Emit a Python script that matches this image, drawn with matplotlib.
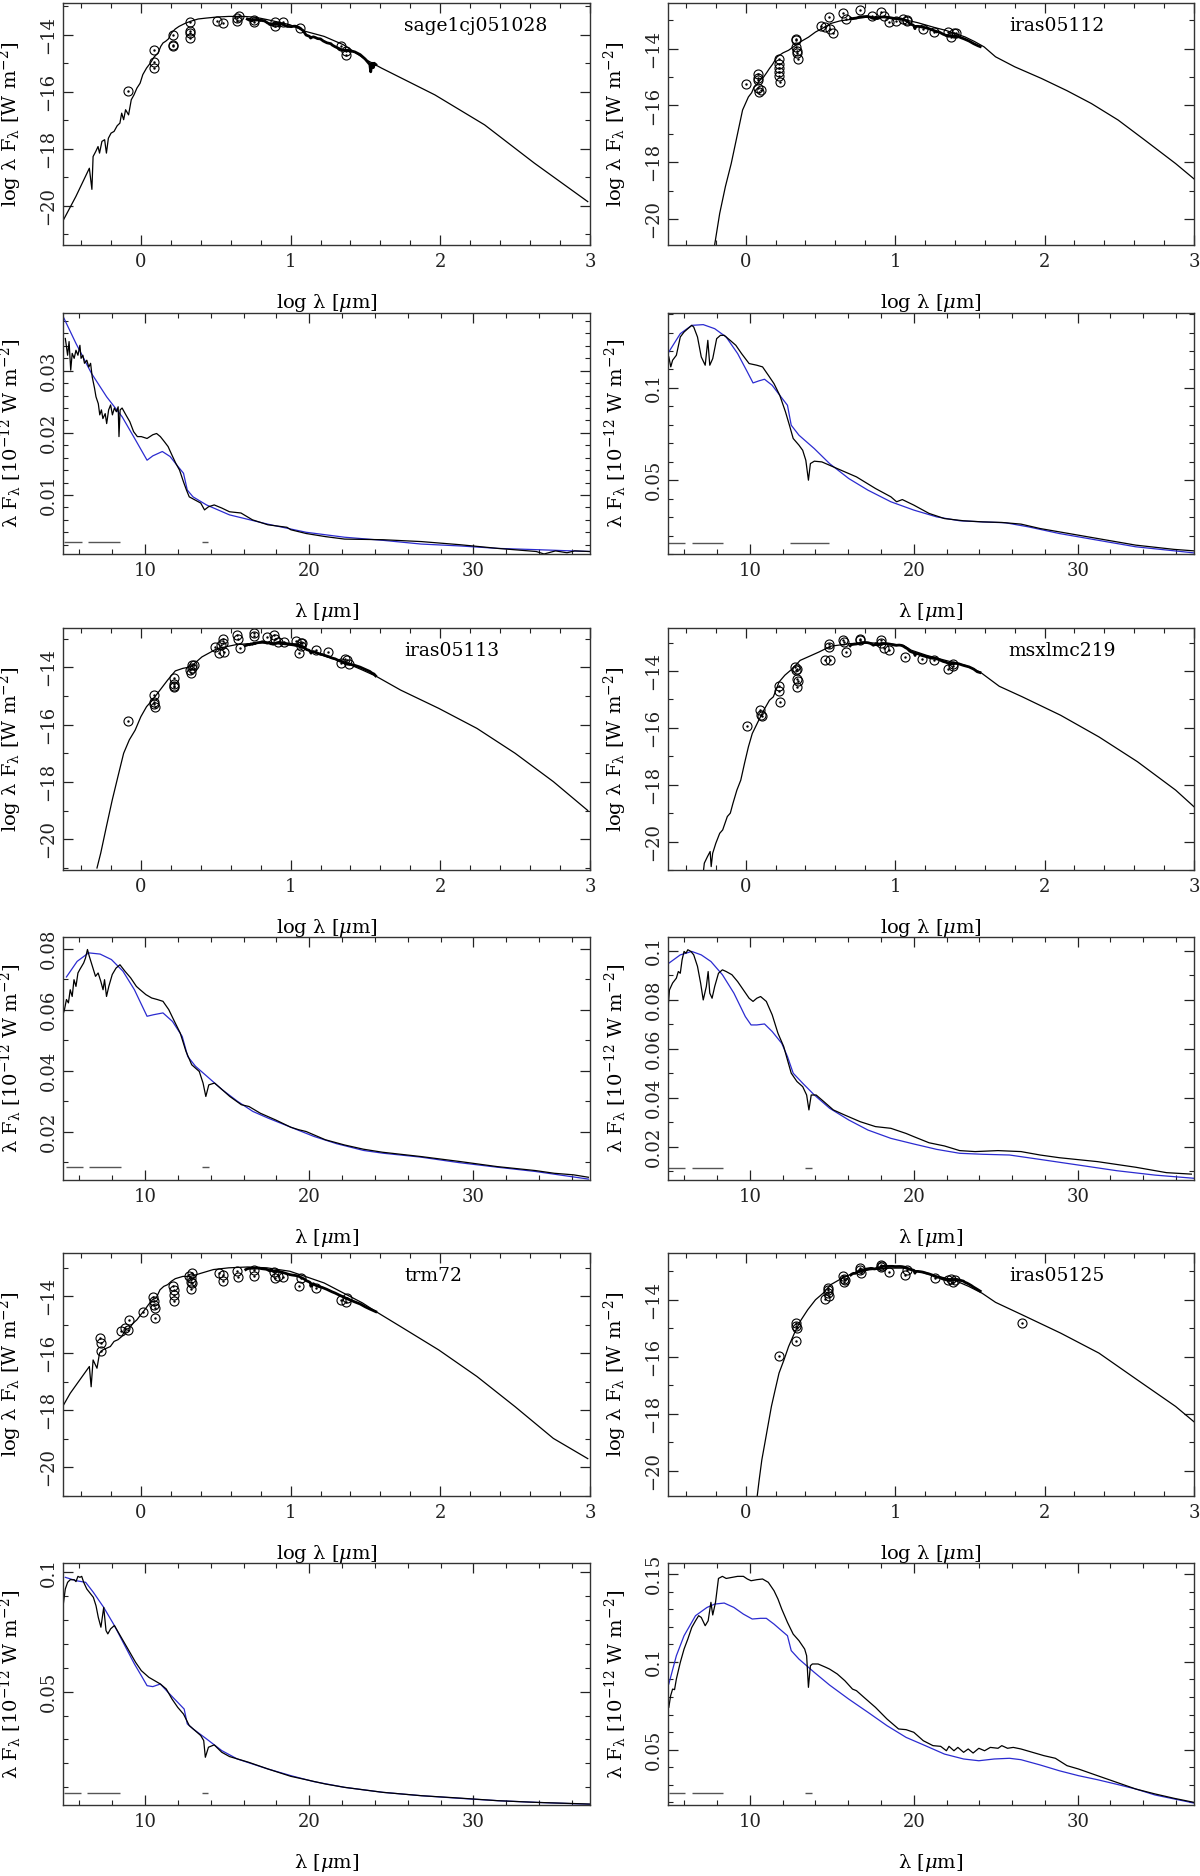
import numpy as np
import matplotlib
matplotlib.use('Agg')
import matplotlib.pyplot as plt
from matplotlib.ticker import MultipleLocator, FuncFormatter

plt.rcParams['font.family'] = ['DejaVu Serif']
plt.rcParams['mathtext.fontset'] = 'dejavuserif'

# ---------------- star names ----------------
names_left = ['sage1cj051028', 'iras05113', 'trm72']
names_right = ['iras05112', 'msxlmc219', 'iras05125']

# ---------------- SED model curves (log lambda [um], log lambda F_lambda [W m^-2]) ----------------
sage_sed_model = [(-0.523,-20.55),(-0.434,-19.67),(-0.344,-18.68),(-0.327,-19.42),(-0.319,-18.27),(-0.301,-18.09),
    (-0.286,-17.92),(-0.276,-18.15),(-0.26,-17.74),(-0.242,-17.68),(-0.23,-18.15),(-0.217,-17.63),(-0.199,-17.45),
    (-0.179,-17.39),(-0.158,-17.19),(-0.14,-17.1),(-0.128,-16.75),(-0.115,-16.98),(-0.102,-16.63),(-0.082,-16.81),
    (-0.064,-16.28),(-0.046,-16.11),(-0.026,-15.87),(-0.005,-15.7),(0.013,-15.4),(0.038,-15.17),(0.064,-14.99),
    (0.089,-14.78),(0.115,-14.64),(0.133,-14.41),(0.148,-14.29),(0.166,-14.23),(0.184,-14.15),(0.204,-13.94),
    (0.23,-13.8),(0.255,-13.71),(0.293,-13.61),(0.332,-13.53),(0.383,-13.45),(0.434,-13.42),(0.51,-13.38),
    (0.587,-13.36),(0.689,-13.36),(0.765,-13.39),(0.842,-13.47),(0.995,-13.65),(1.097,-13.88),(1.224,-14.06),
    (1.352,-14.35),(1.505,-14.88),(1.607,-15.17),(1.964,-16.11),(2.296,-17.16),(2.628,-18.5),(2.985,-19.85)]
iras05112_sed_model = [(-0.208,-20.9),(-0.174,-19.79),(-0.136,-18.85),(-0.097,-18.04),(-0.059,-17.1),(-0.021,-16.16),
    (0.018,-15.7),(0.04,-15.55),(0.056,-15.35),(0.07,-15.3),(0.095,-15.11),(0.12,-15.0),(0.14,-14.85),(0.159,-14.7),
    (0.18,-14.55),(0.21,-14.29),(0.25,-14.15),(0.287,-14.06),(0.33,-13.9),(0.364,-13.77),(0.42,-13.6),(0.467,-13.42),
    (0.52,-13.27),(0.569,-13.12),(0.63,-13.03),(0.697,-12.98),(0.76,-12.93),(0.826,-12.89),(0.89,-12.89),(0.954,-12.91),
    (1.02,-12.95),(1.082,-13.01),(1.15,-13.09),(1.21,-13.18),(1.27,-13.27),(1.338,-13.36),(1.40,-13.47),(1.467,-13.59),
    (1.53,-13.75),(1.595,-13.94),(1.672,-14.29),(1.8,-14.64),(1.979,-15.05),(2.15,-15.48),(2.313,-15.93),(2.492,-16.51),
    (2.672,-17.22),(2.877,-18.04),(3.005,-18.6)]
iras05113_sed_model = [(-0.293,-21.01),(-0.268,-20.49),(-0.23,-19.56),(-0.191,-18.63),(-0.153,-17.81),(-0.115,-17.0),
    (-0.077,-16.53),(-0.038,-16.19),(0.0,-15.72),(0.038,-15.37),(0.077,-15.14),(0.128,-14.79),(0.179,-14.44),
    (0.23,-14.12),(0.281,-14.03),(0.332,-13.98),(0.408,-13.63),(0.51,-13.34),(0.638,-13.2),(0.791,-13.14),
    (0.893,-13.16),(0.995,-13.22),(1.071,-13.28),(1.173,-13.51),(1.352,-13.8),(1.48,-14.09),(1.569,-14.3),
    (1.735,-14.79),(1.99,-15.43),(2.245,-16.13),(2.5,-17.0),(2.755,-17.99),(2.985,-19.0)]
msxlmc219_sed_model = [(-0.282,-21.0),(-0.277,-20.76),(-0.256,-20.53),(-0.238,-20.35),(-0.231,-20.88),(-0.221,-20.41),
    (-0.2,-20.06),(-0.174,-19.71),(-0.154,-19.59),(-0.123,-19.12),(-0.103,-19.0),(-0.085,-18.65),(-0.059,-18.19),
    (-0.033,-17.84),(-0.008,-17.25),(0.018,-16.67),(0.044,-16.2),(0.082,-15.79),(0.121,-15.38),(0.159,-15.03),
    (0.185,-14.91),(0.223,-14.39),(0.262,-14.15),(0.313,-13.92),(0.364,-13.63),(0.441,-13.45),(0.492,-13.33),
    (0.569,-13.13),(0.697,-13.04),(0.826,-13.01),(0.954,-13.04),(1.056,-13.1),(1.108,-13.27),(1.21,-13.45),
    (1.338,-13.63),(1.467,-13.8),(1.569,-14.04),(1.697,-14.54),(1.851,-14.91),(2.108,-15.56),(2.364,-16.32),
    (2.621,-17.19),(2.877,-18.19),(3.005,-18.8)]
trm72_sed_model = [(-0.523,-17.87),(-0.472,-17.4),(-0.408,-16.93),(-0.344,-16.46),(-0.332,-17.17),(-0.319,-16.23),
    (-0.293,-16.52),(-0.276,-15.99),(-0.255,-15.88),(-0.23,-15.82),(-0.204,-15.76),(-0.179,-15.58),(-0.153,-15.52),
    (-0.128,-15.41),(-0.102,-15.17),(-0.077,-15.11),(-0.051,-14.94),(-0.026,-14.82),(0.0,-14.64),(0.026,-14.47),
    (0.051,-14.29),(0.077,-14.12),(0.102,-14.06),(0.128,-13.77),(0.153,-13.65),(0.179,-13.59),(0.204,-13.47),
    (0.23,-13.38),(0.281,-13.3),(0.332,-13.3),(0.408,-13.18),(0.485,-13.06),(0.587,-13.0),(0.714,-12.97),
    (0.842,-13.0),(0.995,-13.12),(1.097,-13.3),(1.224,-13.53),(1.352,-13.88),(1.48,-14.23),(1.569,-14.53),
    (1.735,-15.06),(1.99,-15.88),(2.245,-16.81),(2.5,-17.87),(2.755,-18.98),(2.985,-19.69)]
iras05125_sed_model = [(0.077,-20.88),(0.09,-20.32),(0.108,-19.61),(0.128,-19.03),(0.146,-18.5),(0.172,-17.74),
    (0.197,-17.16),(0.223,-16.57),(0.256,-16.11),(0.287,-15.64),(0.326,-15.17),(0.364,-14.76),(0.415,-14.35),
    (0.467,-14.0),(0.518,-13.77),(0.569,-13.47),(0.646,-13.24),(0.723,-13.06),(0.826,-12.95),(0.954,-12.89),
    (1.056,-12.89),(1.159,-13.01),(1.287,-13.18),(1.39,-13.3),(1.492,-13.53),(1.582,-13.77),(1.672,-14.09),
    (1.851,-14.53),(2.108,-15.17),(2.364,-15.87),(2.621,-16.81),(2.877,-17.74),(3.005,-18.3)]

# ---------------- photometry (log lambda, log lambda F_lambda) ----------------
sage_phot = [(-0.084,-15.99),(0.089,-14.53),(0.089,-14.94),(0.089,-15.17),(0.217,-14.0),(0.217,-14.35),(0.217,-14.41),
    (0.327,-13.57),(0.327,-13.88),(0.327,-13.94),(0.327,-14.12),(0.51,-13.51),(0.548,-13.59),(0.645,-13.42),
    (0.645,-13.53),(0.658,-13.36),(0.753,-13.47),(0.753,-13.57),(0.893,-13.57),(0.893,-13.71),(0.952,-13.57),
    (1.064,-13.77),(1.339,-14.39),(1.372,-14.58),(1.372,-14.70)]
iras05112_phot = [(0.005,-15.25),(0.082,-14.90),(0.082,-15.02),(0.082,-15.11),(0.082,-15.37),(0.09,-15.52),(0.103,-15.44),
    (0.223,-14.35),(0.223,-14.53),(0.223,-14.70),(0.223,-14.82),(0.223,-14.97),(0.231,-15.17),(0.338,-13.65),
    (0.338,-13.71),(0.338,-13.94),(0.344,-14.08),(0.344,-14.15),(0.351,-14.35),(0.505,-13.22),(0.531,-13.24),
    (0.556,-12.89),(0.564,-13.30),(0.582,-13.47),(0.654,-12.75),(0.672,-12.95),(0.764,-12.63),(0.846,-12.87),
    (0.903,-12.71),(0.928,-12.87),(0.959,-13.06),(1.005,-13.03),(1.051,-12.95),(1.077,-13.03),(1.082,-12.98),
    (1.185,-13.30),(1.262,-13.42),(1.351,-13.42),(1.377,-13.59),(1.395,-13.45),(1.41,-13.47)]
iras05113_phot = [(-0.084,-15.87),(0.089,-14.97),(0.089,-15.20),(0.089,-15.29),(0.097,-15.37),(0.222,-14.36),(0.222,-14.58),
    (0.222,-14.65),(0.222,-14.70),(0.327,-14.09),(0.332,-14.19),(0.339,-13.92),(0.344,-14.01),(0.352,-13.90),
    (0.497,-13.28),(0.523,-13.51),(0.536,-13.22),(0.548,-13.02),(0.548,-13.14),(0.556,-13.45),(0.645,-12.87),
    (0.651,-13.02),(0.663,-13.31),(0.753,-12.81),(0.753,-12.91),(0.842,-12.93),(0.888,-12.87),(0.893,-13.02),
    (0.918,-13.10),(0.957,-13.10),(1.033,-13.07),(1.059,-13.49),(1.071,-13.16),(1.071,-13.26),(1.077,-13.14),
    (1.168,-13.40),(1.25,-13.45),(1.339,-13.86),(1.365,-13.69),(1.378,-13.74),(1.39,-13.88)]
msxlmc219_phot = [(0.01,-15.94),(0.095,-15.38),(0.103,-15.56),(0.108,-15.59),(0.223,-14.54),(0.223,-14.70),(0.231,-15.09),
    (0.333,-13.86),(0.338,-13.98),(0.344,-13.92),(0.344,-14.30),(0.351,-14.35),(0.344,-14.58),(0.531,-13.63),
    (0.556,-13.04),(0.556,-13.16),(0.562,-13.60),(0.654,-12.92),(0.659,-12.98),(0.672,-13.33),(0.764,-12.87),
    (0.767,-12.92),(0.903,-12.92),(0.908,-13.01),(0.928,-13.18),(0.959,-13.25),(1.069,-13.51),(1.179,-13.58),
    (1.262,-13.63),(1.351,-13.92),(1.385,-13.74),(1.39,-13.84)]
trm72_phot = [(-0.273,-15.47),(-0.268,-15.64),(-0.268,-15.93),(-0.133,-15.23),(-0.107,-15.11),(-0.089,-15.17),(-0.082,-14.84),
    (0.013,-14.56),(0.084,-14.02),(0.089,-14.18),(0.089,-14.29),(0.094,-14.41),(0.097,-14.76),(0.217,-13.65),
    (0.222,-13.77),(0.222,-13.94),(0.222,-14.18),(0.324,-13.27),(0.332,-13.36),(0.332,-13.51),(0.332,-13.74),
    (0.344,-13.18),(0.344,-13.53),(0.523,-13.18),(0.548,-13.24),(0.548,-13.47),(0.645,-13.12),(0.651,-13.32),
    (0.753,-13.09),(0.753,-13.27),(0.888,-13.16),(0.893,-13.36),(0.918,-13.30),(0.949,-13.32),(1.059,-13.62),
    (1.071,-13.36),(1.168,-13.71),(1.339,-14.12),(1.372,-14.21),(1.378,-14.06)]
iras05125_phot = [(0.223,-15.96),(0.338,-15.43),(0.338,-14.82),(0.338,-14.91),(0.344,-14.99),(0.531,-13.98),(0.549,-13.59),
    (0.549,-13.67),(0.551,-13.77),(0.559,-13.86),(0.654,-13.16),(0.659,-13.27),(0.659,-13.36),(0.667,-13.32),
    (0.764,-12.89),(0.767,-12.97),(0.769,-13.06),(0.903,-12.77),(0.908,-12.85),(0.915,-12.83),(0.959,-13.04),
    (1.069,-13.12),(1.082,-12.97),(1.267,-13.24),(1.351,-13.32),(1.377,-13.27),(1.39,-13.36),(1.403,-13.30),
    (1.851,-14.82)]

# ---------------- IRS spectra (lambda [um], lambda F_lambda [1e-12 W m^-2]) ----------------
sage_obs = [(5.14,0.0352),(5.21,0.0339),(5.28,0.0325),(5.37,0.0347),(5.47,0.0301),(5.56,0.0328),(5.68,0.032),
    (5.79,0.0333),(5.91,0.0325),(6.03,0.0341),(6.10,0.032),(6.21,0.0325),(6.31,0.0312),(6.45,0.0317),(6.57,0.0306),
    (6.68,0.0312),(6.78,0.029),(6.92,0.0272),(7.01,0.0258),(7.15,0.0247),(7.24,0.0229),(7.34,0.0237),(7.43,0.0223),
    (7.57,0.0231),(7.66,0.0215),(7.78,0.0237),(7.90,0.0245),(8.01,0.0229),(8.13,0.024),(8.25,0.0234),(8.36,0.0242),
    (8.41,0.0194),(8.48,0.0237),(8.60,0.024),(8.83,0.0229),(9.07,0.0218),(9.30,0.0202),(9.53,0.0194),(9.77,0.0194),
    (10.12,0.0191),(10.47,0.0197),(10.70,0.0199),(10.93,0.0194),(11.17,0.0186),(11.40,0.0178),(11.64,0.0164),
    (11.87,0.0151),(12.10,0.014),(12.34,0.0121),(12.52,0.0108),(12.69,0.0097),(13.04,0.0092),(13.39,0.0087),
    (13.62,0.0076),(13.86,0.0081),(14.21,0.0084),(14.67,0.0079),(15.14,0.0073),(15.84,0.0071),(16.54,0.006),
    (17.48,0.0052),(18.64,0.0048),(18.88,0.0044),(19.81,0.0038),(20.98,0.0033),(22.15,0.0029),(24.49,0.0028),
    (26.82,0.0025),(29.16,0.002),(31.5,0.0014),(33.83,0.0009),(34.3,0.0005),(35.0,0.001),(35.7,0.0007),
    (36.17,0.001),(37.1,0.0009)]
sage_mod = [(5.05,0.0385),(5.79,0.0344),(6.73,0.0296),(7.66,0.0258),(8.6,0.0226),(9.3,0.0194),(10.12,0.0156),
    (10.47,0.0163),(11.05,0.017),(11.52,0.0162),(12.0,0.0146),(12.34,0.0135),(12.57,0.0108),(12.92,0.0097),
    (13.74,0.0084),(15.14,0.0068),(17.48,0.0053),(19.81,0.004),(22.15,0.0032),(24.49,0.0027),(26.82,0.0021),
    (29.16,0.0018),(31.5,0.0014),(33.83,0.0012),(37.1,0.0009)]
iras05112_obs = [(5.05,0.1168),(5.17,0.1114),(5.28,0.115),(5.51,0.1177),(5.75,0.1276),(5.98,0.1303),(6.21,0.1321),
    (6.45,0.1339),(6.57,0.133),(6.8,0.1276),(7.03,0.1168),(7.27,0.1123),(7.43,0.1258),(7.55,0.1123),(7.73,0.1159),
    (7.97,0.1267),(8.2,0.1285),(8.43,0.1285),(8.79,0.1258),(9.14,0.1231),(9.49,0.1186),(9.95,0.1132),(10.42,0.1123),
    (10.77,0.1114),(11.12,0.1069),(11.47,0.1023),(11.82,0.096),(12.17,0.087),(12.41,0.0798),(12.64,0.0726),
    (12.99,0.069),(13.22,0.0662),(13.41,0.0608),(13.57,0.05),(13.69,0.059),(13.93,0.0603),(14.39,0.0599),
    (14.86,0.0581),(15.56,0.0554),(16.5,0.0518),(17.66,0.0455),(18.6,0.041),(18.95,0.0383),(19.3,0.0395),
    (20.0,0.0365),(20.93,0.032),(21.87,0.0292),(23.04,0.028),(24.21,0.0274),(25.37,0.0271),(26.54,0.0262),
    (27.71,0.0238),(28.88,0.022),(31.21,0.0184),(33.55,0.0148),(35.89,0.0125),(37.1,0.0117)]
iras05112_mod = [(5.05,0.1195),(5.75,0.1294),(6.45,0.1339),(7.15,0.1343),(7.85,0.1321),(8.55,0.1276),(9.25,0.1186),
    (9.84,0.1087),(10.19,0.1027),(10.54,0.1038),(10.89,0.1047),(11.36,0.1014),(11.82,0.096),(12.29,0.0906),
    (12.52,0.0798),(12.99,0.0744),(13.93,0.0671),(14.86,0.059),(16.03,0.0509),(17.2,0.0446),(18.6,0.0383),
    (20.0,0.0338),(21.4,0.0301),(22.8,0.028),(24.21,0.0274),(25.61,0.0269),(27.0,0.0247),(28.88,0.0211),
    (31.21,0.0175),(33.55,0.0139),(37.1,0.0106)]
iras05113_obs = [(5.0,0.0585),(5.09,0.0601),(5.21,0.0634),(5.33,0.0623),(5.44,0.0666),(5.56,0.0644),(5.67,0.0699),
    (5.79,0.0677),(5.91,0.0721),(6.02,0.0732),(6.14,0.0743),(6.26,0.0754),(6.37,0.077),(6.49,0.0798),(6.6,0.0776),
    (6.79,0.0743),(6.98,0.071),(7.14,0.0721),(7.3,0.0694),(7.44,0.0666),(7.53,0.0699),(7.65,0.0644),(7.79,0.0677),
    (8.0,0.0716),(8.23,0.0737),(8.47,0.0748),(8.77,0.0727),(9.12,0.0705),(9.47,0.0677),(9.7,0.0666),(10.05,0.065),
    (10.4,0.0639),(10.74,0.0634),(11.09,0.0628),(11.44,0.0601),(11.79,0.0562),(12.14,0.0524),(12.49,0.0464),
    (12.84,0.042),(13.3,0.0398),(13.53,0.036),(13.7,0.0316),(13.88,0.0354),(14.23,0.036),(14.7,0.0338),
    (15.16,0.0316),(15.86,0.0289),(16.33,0.0283),(17.02,0.0261),(17.95,0.0239),(18.88,0.0215),(19.35,0.0207),
    (19.81,0.0201),(20.98,0.0174),(22.14,0.0157),(23.3,0.0143),(24.47,0.0133),(26.79,0.0119),(29.12,0.0103),
    (31.44,0.0086),(33.77,0.0073),(34.93,0.0064),(36.09,0.0059),(37.0,0.0051)]
iras05113_mod = [(5.21,0.0708),(5.86,0.0759),(6.56,0.0787),(7.26,0.0783),(7.95,0.0765),(8.65,0.0727),(9.35,0.0666),
    (10.12,0.0579),(10.51,0.0584),(11.09,0.059),(11.67,0.0562),(12.26,0.0513),(12.6,0.0447),(13.07,0.0415),
    (13.77,0.0382),(14.7,0.0338),(15.63,0.03),(16.56,0.0267),(17.49,0.0245),(18.88,0.0215),(20.28,0.0185),
    (21.67,0.0161),(23.3,0.0139),(24.47,0.013),(26.79,0.0117),(29.12,0.0099),(31.44,0.0084),(33.77,0.007),
    (37.0,0.0045)]
msxlmc219_obs = [(5.0,0.0765),(5.09,0.084),(5.28,0.0868),(5.51,0.0888),(5.63,0.0915),(5.75,0.0908),(5.86,0.0963),
    (5.98,0.0997),(6.1,0.099),(6.21,0.1004),(6.4,0.0997),(6.57,0.0983),(6.8,0.0936),(6.99,0.0868),(7.15,0.0799),
    (7.34,0.0854),(7.45,0.0915),(7.55,0.0827),(7.69,0.0806),(7.85,0.0854),(8.08,0.0908),(8.32,0.0922),(8.55,0.0915),
    (8.9,0.0902),(9.25,0.0874),(9.6,0.084),(9.95,0.0806),(10.19,0.0793),(10.42,0.0806),(10.65,0.0813),(11.0,0.0793),
    (11.36,0.0738),(11.71,0.0663),(12.06,0.0609),(12.29,0.0554),(12.52,0.05),(12.87,0.0466),(13.22,0.0445),
    (13.46,0.0411),(13.6,0.035),(13.74,0.0411),(14.04,0.0411),(14.51,0.0384),(15.09,0.035),(15.79,0.0329),
    (16.73,0.0302),(17.66,0.0282),(18.6,0.0275),(19.53,0.0254),(20.0,0.0241),(20.93,0.0216),(21.87,0.0203),
    (22.8,0.0184),(23.74,0.018),(25.14,0.0184),(26.54,0.018),(27.71,0.0166),(28.88,0.0155),(31.21,0.0139),
    (33.55,0.0116),(35.42,0.0094),(36.94,0.0088)]
msxlmc219_mod = [(5.05,0.0949),(5.75,0.0983),(6.45,0.0997),(7.03,0.0983),(7.62,0.0956),(8.32,0.0902),(9.02,0.0827),
    (9.72,0.0731),(10.07,0.0697),(10.42,0.0697),(10.89,0.0701),(11.36,0.067),(11.94,0.0622),(12.29,0.0568),
    (12.64,0.05),(13.22,0.0459),(13.93,0.0411),(14.86,0.0357),(16.03,0.0309),(17.2,0.0268),(18.6,0.0234),
    (20.0,0.0211),(21.4,0.0189),(22.8,0.0173),(24.21,0.0169),(25.84,0.0166),(27.71,0.0148),(30.05,0.0125),
    (32.38,0.0102),(34.72,0.0084),(37.1,0.0071)]
trm72_obs = [(5.02,0.0867),(5.14,0.093),(5.28,0.0958),(5.44,0.0969),(5.68,0.0969),(5.79,0.0961),(5.91,0.0983),
    (6.03,0.0979),(6.14,0.0983),(6.26,0.0958),(6.45,0.093),(6.61,0.0916),(6.85,0.0895),(7.01,0.086),(7.15,0.0811),
    (7.31,0.077),(7.48,0.0853),(7.62,0.0756),(7.73,0.0742),(7.9,0.0763),(8.13,0.0777),(8.6,0.0721),(9.07,0.0665),
    (9.42,0.0623),(9.77,0.0588),(10.23,0.056),(10.58,0.0546),(10.93,0.0532),(11.29,0.0511),(11.64,0.0469),
    (11.99,0.0434),(12.34,0.0406),(12.69,0.0358),(13.04,0.0337),(13.39,0.0316),(13.57,0.0295),(13.67,0.0225),
    (13.86,0.0267),(14.21,0.0277),(14.67,0.0246),(15.14,0.0228),(16.31,0.0204),(17.48,0.0176),(18.88,0.0145),
    (19.81,0.0131),(20.98,0.0113),(22.15,0.0099),(24.49,0.0078),(26.82,0.0064),(29.16,0.0054),(31.5,0.0043),
    (33.83,0.0036),(37.1,0.0029)]
trm72_mod = [(5.14,0.0979),(5.79,0.0965),(6.38,0.0958),(6.85,0.0916),(7.48,0.0853),(8.13,0.0777),(8.71,0.07),
    (9.35,0.0616),(9.77,0.0567),(10.12,0.0525),(10.47,0.0521),(10.93,0.0532),(11.4,0.0497),(11.99,0.0455),
    (12.38,0.0427),(12.57,0.0365),(12.92,0.0344),(13.74,0.0302),(14.67,0.0253),(15.61,0.0218),(16.54,0.0197),
    (17.48,0.0176),(18.88,0.0148),(20.28,0.0123),(22.15,0.0099),(24.49,0.0078),(26.82,0.0064),(29.16,0.0053),
    (31.5,0.0043),(33.83,0.0036),(37.1,0.0028)]
iras05125_obs = [(5.05,0.0741),(5.16,0.0807),(5.28,0.0845),(5.4,0.0842),(5.51,0.0902),(5.75,0.0997),(5.98,0.1073),
    (6.21,0.113),(6.45,0.1196),(6.68,0.1234),(6.87,0.1263),(7.03,0.1253),(7.27,0.1206),(7.45,0.1234),(7.62,0.1339),
    (7.73,0.1267),(7.9,0.1339),(8.08,0.1475),(8.32,0.1487),(8.55,0.1475),(8.9,0.1481),(9.25,0.1487),(9.6,0.1487),
    (9.84,0.1472),(10.07,0.1462),(10.42,0.1468),(10.77,0.1472),(11.12,0.1453),(11.47,0.1405),(11.71,0.1358),
    (11.94,0.1301),(12.29,0.1225),(12.64,0.1158),(12.99,0.1121),(13.34,0.1073),(13.46,0.1035),(13.57,0.0855),
    (13.69,0.0978),(13.81,0.0988),(14.16,0.0988),(14.63,0.0969),(14.86,0.0959),(15.33,0.0931),(15.79,0.0893),
    (16.26,0.0845),(16.5,0.0836),(16.96,0.0798),(17.66,0.0741),(18.36,0.0675),(19.07,0.0618),(19.53,0.0614),
    (20.0,0.0599),(20.58,0.0551),(21.17,0.0523),(21.64,0.0519),(21.99,0.0494),(22.15,0.0519),(22.45,0.0494),
    (22.69,0.0513),(23.04,0.0485),(23.32,0.0504),(23.62,0.0481),(23.97,0.0508),(24.32,0.0494),(24.67,0.0513),
    (25.14,0.0508),(25.37,0.0523),(25.72,0.0508),(26.07,0.0513),(26.54,0.0504),(27.24,0.0485),(27.94,0.0466),
    (28.64,0.0451),(29.35,0.0409),(30.05,0.039),(31.21,0.0352),(32.38,0.0314),(33.55,0.0276),(34.72,0.0248),
    (35.89,0.0223),(37.1,0.02)]
iras05125_mod = [(5.05,0.0874),(5.51,0.1035),(5.98,0.1149),(6.68,0.1263),(7.38,0.131),(7.85,0.1329),(8.43,0.1335),
    (9.02,0.131),(9.6,0.1272),(10.14,0.1244),(10.65,0.1248),(11.0,0.1248),(11.47,0.1215),(11.94,0.1177),
    (12.29,0.1149),(12.52,0.1064),(12.99,0.1016),(13.93,0.094),(14.86,0.0868),(16.03,0.0788),(17.2,0.0713),
    (18.36,0.0637),(19.53,0.057),(20.7,0.0523),(21.87,0.0475),(23.04,0.0447),(23.97,0.0437),(24.91,0.0447),
    (25.84,0.0451),(26.54,0.0443),(27.71,0.0413),(28.88,0.038),(30.05,0.0352),(31.21,0.0329),(32.38,0.0303),
    (33.55,0.0276),(34.72,0.0242),(37.1,0.0196)]

# ---------------- order-coverage segments drawn near the bottom of each spectrum ----------------
sage_seg_y = 0.0024
sage_seg = [(5.09, 6.14), (6.54, 8.48), (13.46, 13.86)]
iras05112_seg_y = 0.0162
iras05112_seg = [(4.98, 6.03), (6.45, 8.36), (12.45, 14.8)]
iras05113_seg_y = 0.0083
iras05113_seg = [(5.16, 6.21), (6.6, 8.53), (13.49, 13.88)]
msxlmc219_seg_y = 0.0114
msxlmc219_seg = [(4.98, 6.03), (6.45, 8.36), (13.39, 13.81)]
trm72_seg_y = 0.0075
trm72_seg = [(5.09, 6.12), (6.45, 8.48), (13.46, 13.86)]
iras05125_seg_y = 0.0253
iras05125_seg = [(5.05, 6.03), (6.45, 8.36), (13.39, 13.81)]

# ---------------- figure ----------------
W, H = 1200, 1876
fig = plt.figure(figsize=(12, 18.76), dpi=100)
cols = [(63, 590), (668, 1194)]
rows = [(3, 245), (313, 554), (628, 870), (937, 1180), (1253, 1496), (1563, 1805)]

BLUE = '#2b2bd0'
FS_TICK = 13
FS_LAB = 14


def add_ax(col, row):
    x0, x1 = cols[col]
    t, b = rows[row]
    return fig.add_axes([x0 / W, 1 - b / H, (x1 - x0) / W, (b - t) / H])


def style(ax, xw):
    ax.tick_params(which='both', direction='in', top=True, right=True, colors='#222', labelsize=FS_TICK)
    ax.tick_params(which='major', length=7, width=0.9)
    ax.tick_params(which='minor', length=3.5, width=0.8)
    ax.tick_params(axis='x', pad=6)
    ax.tick_params(axis='y', pad=4, labelrotation=90)
    plt.setp(ax.get_yticklabels(), va='center')
    for s in ax.spines.values():
        s.set_linewidth(1.0)
        s.set_color('#333')
    ax.xaxis.set_label_coords(0.5, -47 / 242)
    ax.yaxis.set_label_coords(-39 / xw, 0.5)


fmt = FuncFormatter(lambda v, p: '%g' % round(v, 4))


def sed_panel(ax, name, model, phot, obs, ylim):
    mx, my = zip(*model)
    ax.plot(mx, my, color='k', lw=0.9)
    ow, of = zip(*obs)
    ax.plot(np.log10(ow), np.log10(np.array(of) * 1e-12), color='k', lw=2.0)
    px, py = zip(*phot)
    ax.plot(px, py, 'o', mfc='none', mec='k', ms=6.5, mew=0.8)
    ax.plot(px, py, '.', color='k', ms=1.5)
    ax.set_xlim(-0.52, 3.0)
    ax.set_ylim(*ylim)
    ax.xaxis.set_major_locator(MultipleLocator(1))
    ax.xaxis.set_minor_locator(MultipleLocator(0.2))
    ax.yaxis.set_major_locator(MultipleLocator(2))
    ax.yaxis.set_minor_locator(MultipleLocator(1))
    ax.set_xlabel(r'log λ [$\mu$m]', fontsize=FS_LAB)
    ax.set_ylabel(r'log λ F$_{\mathrm{\lambda}}$ [W m$^{-2}$]', fontsize=FS_LAB)
    ax.text(0.648, 0.905, name, transform=ax.transAxes, ha='left', va='center', fontsize=13.5)


def spec_panel(ax, obs, mod, seg_y, seg, ylim, major):
    ow, of = zip(*obs)
    mw, mf = zip(*mod)
    ax.plot(mw, mf, color=BLUE, lw=0.9)
    ax.plot(ow, of, color='k', lw=0.9)
    for a, b in seg:
        ax.hlines(seg_y, a, b, color='#555', lw=1.0)
    ax.set_xlim(5.0, 37.1)
    ax.set_ylim(*ylim)
    ax.xaxis.set_major_locator(MultipleLocator(10))
    ax.xaxis.set_minor_locator(MultipleLocator(2))
    ax.yaxis.set_major_locator(MultipleLocator(major))
    ax.yaxis.set_minor_locator(MultipleLocator(0.002 if major < 0.015 else 0.01))
    ax.yaxis.set_major_formatter(fmt)
    ax.set_xlabel(r'λ [$\mu$m]', fontsize=FS_LAB)
    ax.set_ylabel(r'λ F$_{\mathrm{\lambda}}$ [10$^{-12}$ W m$^{-2}$]', fontsize=FS_LAB)


panels = [
    (0, 0, 1, 'sage1cj051028', sage_sed_model, sage_phot, sage_obs, sage_mod, sage_seg_y, sage_seg,
     (-21.37, -12.89), (0.0005, 0.0393), 0.01),
    (1, 0, 1, 'iras05112', iras05112_sed_model, iras05112_phot, iras05112_obs, iras05112_mod, iras05112_seg_y,
     iras05112_seg, (-20.9, -12.4), (0.010, 0.1406), 0.05),
    (0, 2, 3, 'iras05113', iras05113_sed_model, iras05113_phot, iras05113_obs, iras05113_mod, iras05113_seg_y,
     iras05113_seg, (-21.08, -12.62), (0.0042, 0.0839), 0.02),
    (1, 2, 3, 'msxlmc219', msxlmc219_sed_model, msxlmc219_phot, msxlmc219_obs, msxlmc219_mod, msxlmc219_seg_y,
     msxlmc219_seg, (-21.0, -12.49), (0.0064, 0.1056), 0.02),
    (0, 4, 5, 'trm72', trm72_sed_model, trm72_phot, trm72_obs, trm72_mod, trm72_seg_y, trm72_seg,
     (-21.0, -12.48), (0.0025, 0.1039), 0.05),
    (1, 4, 5, 'iras05125', iras05125_sed_model, iras05125_phot, iras05125_obs, iras05125_mod, iras05125_seg_y,
     iras05125_seg, (-20.88, -12.36), (0.0185, 0.1563), 0.05),
]

for col, r1, r2, name, sm, ph, ob, mo, sy, sg, yl1, yl2, maj in panels:
    xw = cols[col][1] - cols[col][0]
    a1 = add_ax(col, r1)
    sed_panel(a1, name, sm, ph, ob, yl1)
    style(a1, xw)
    a2 = add_ax(col, r2)
    spec_panel(a2, ob, mo, sy, sg, yl2, maj)
    style(a2, xw)

fig.savefig('out.png', dpi=100)
